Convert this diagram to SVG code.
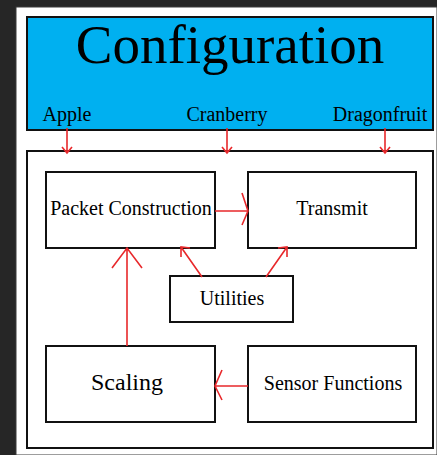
<svg xmlns="http://www.w3.org/2000/svg" width="437" height="455" viewBox="0 0 437 455">
  <style>
    .box { fill: #ffffff; stroke: #111111; stroke-width: 2; }
    .lbl { font-family: 'Liberation Serif', 'Times New Roman', serif; fill: #000000; text-anchor: middle; }
    .wire { fill: none; stroke: #e8282b; stroke-width: 1.6; }
  </style>
  <!-- page backdrop -->
  <rect x="0" y="0" width="437" height="455" fill="#262626"/>
  <rect x="16" y="7" width="421" height="448" fill="#ffffff" stroke="#3a3a3a" stroke-width="1"/>

  <g id="configuration">
    <rect x="27" y="17" width="406" height="113" fill="#00b0f0" stroke="#111111" stroke-width="2"/>
    <text class="lbl" x="230" y="63" font-size="55">Configuration</text>
    <text class="lbl" x="67" y="121" font-size="20">Apple</text>
    <text class="lbl" x="227" y="121" font-size="20">Cranberry</text>
    <text class="lbl" x="380" y="121" font-size="20">Dragonfruit</text>
  </g>

  <g id="system">
    <rect x="27" y="151" width="406" height="297" class="box"/>
  </g>

  <g id="packet-construction">
    <rect x="46" y="172" width="169" height="76" class="box"/>
    <text class="lbl" x="131" y="215" font-size="20">Packet Construction</text>
  </g>

  <g id="transmit">
    <rect x="248" y="172" width="168" height="76" class="box"/>
    <text class="lbl" x="332" y="215" font-size="20">Transmit</text>
  </g>

  <g id="utilities">
    <rect x="170" y="276" width="123" height="46" class="box"/>
    <text class="lbl" x="232" y="305" font-size="20">Utilities</text>
  </g>

  <g id="scaling">
    <rect x="46" y="346" width="169" height="76" class="box"/>
    <text class="lbl" x="127" y="390" font-size="24">Scaling</text>
  </g>

  <g id="sensor-functions">
    <rect x="248" y="346" width="168" height="76" class="box"/>
    <text class="lbl" x="333" y="390" font-size="20">Sensor Functions</text>
  </g>

  <g id="connectors">
    <!-- configuration inputs -->
    <path class="wire" d="M67 128 V153 M62 147 L67 153 L72 147"/>
    <path class="wire" d="M227 128 V153 M222 147 L227 153 L232 147"/>
    <path class="wire" d="M385 128 V153 M380 147 L385 153 L390 147"/>
    <!-- packet construction to transmit -->
    <path class="wire" d="M215 211 H248 M242 193 L248 211 L242 225"/>
    <!-- utilities to packet construction -->
    <path class="wire" d="M202 277 L181 247 M181 257 L181 247 L190 248"/>
    <!-- utilities to transmit -->
    <path class="wire" d="M266 277 L287 247 M278 248 L287 247 L287 257"/>
    <!-- scaling to packet construction -->
    <path class="wire" d="M127 346 V248 M112 268 L127 248 L142 268"/>
    <!-- sensor functions to scaling -->
    <path class="wire" d="M248 386 H215 M222 370 L215 386 L222 400"/>
  </g>
</svg>
